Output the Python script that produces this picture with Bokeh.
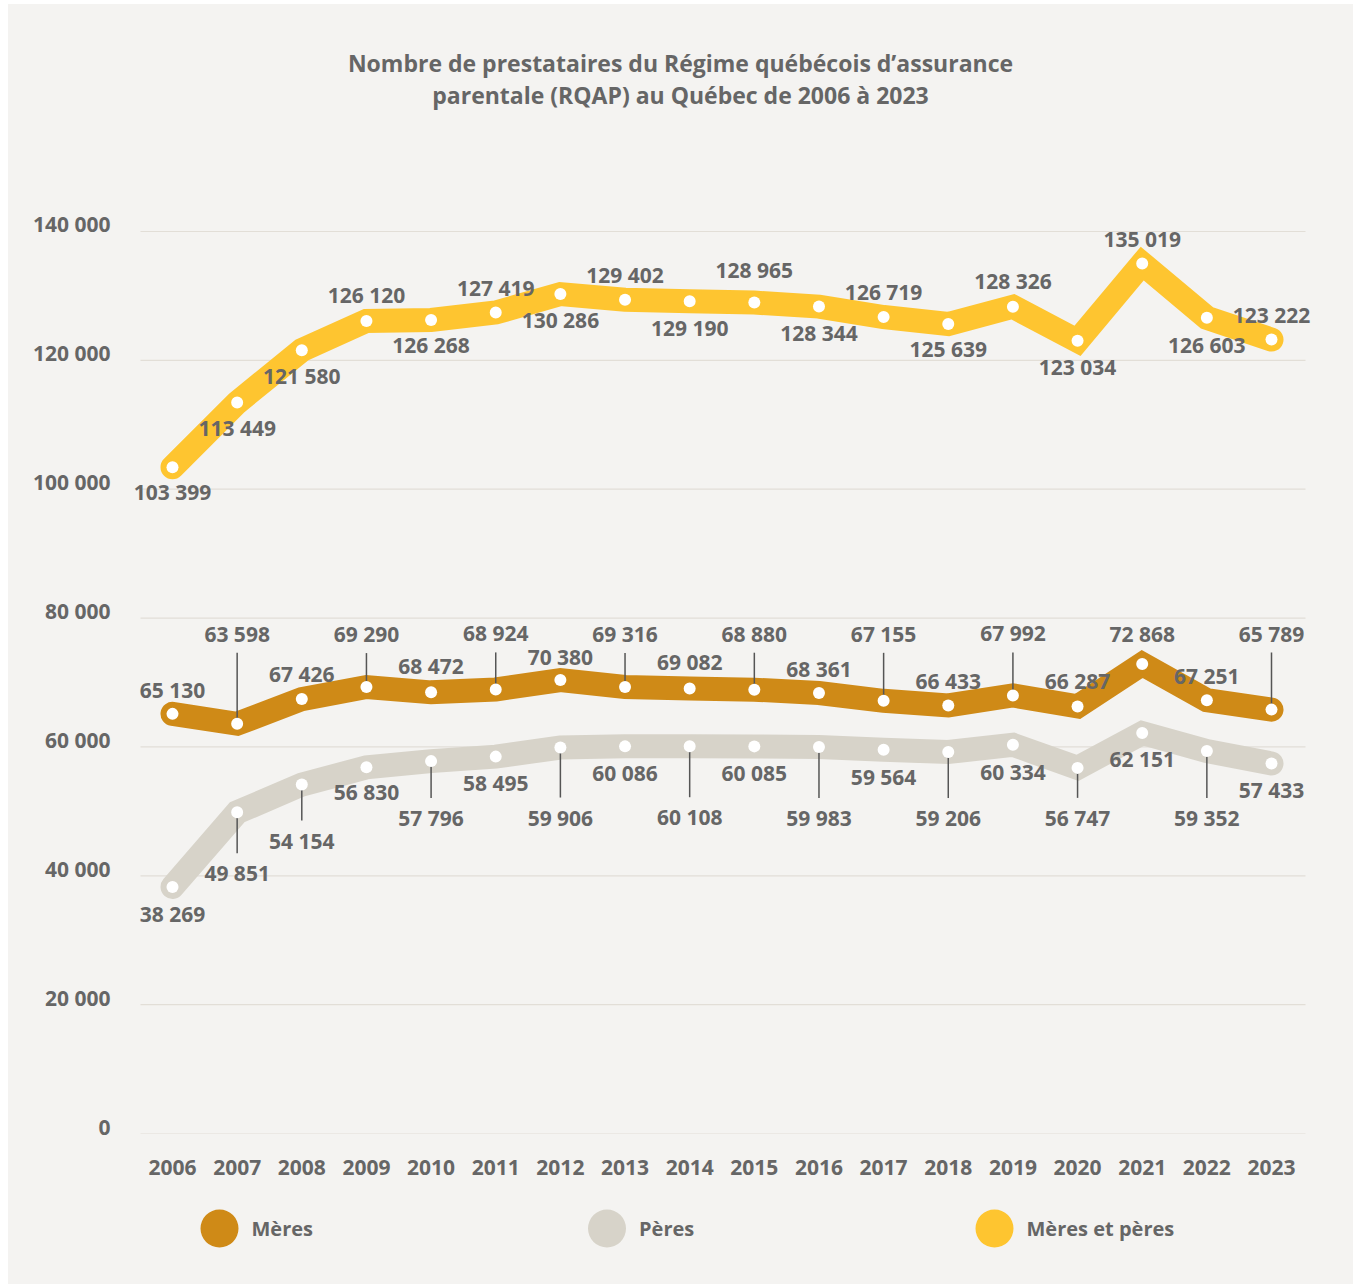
from bokeh.plotting import figure
from bokeh.models import Range1d, FixedTicker, ColumnDataSource
from bokeh.layouts import column
from bokeh.embed import file_html
from bokeh.resources import INLINE
from bokeh.core.properties import value

# ---------------- data ----------------
years = list(range(2006, 2024))
meres = [65130, 63598, 67426, 69290, 68472, 68924, 70380, 69316, 69082,
         68880, 68361, 67155, 66433, 67992, 66287, 72868, 67251, 65789]
peres = [38269, 49851, 54154, 56830, 57796, 58495, 59906, 60086, 60108,
         60085, 59983, 59564, 59206, 60334, 56747, 62151, 59352, 57433]
total = [103399, 113449, 121580, 126120, 126268, 127419, 130286, 129402, 129190,
         128965, 128344, 126719, 125639, 128326, 123034, 135019, 126603, 123222]
y_ticks = [0, 20000, 40000, 60000, 80000, 100000, 120000, 140000]
series_names = ["Mères", "Pères", "Mères et pères"]
title_lines = ["Nombre de prestataires du Régime québécois d’assurance",
               "parentale (RQAP) au Québec de 2006 à 2023"]

# ---------------- label placement (screen px, + = downward) ----------------
total_dy = [25, 25, 26, -26, 25, -25, 26, -25, 27, -33, 26, -25, 25, -26, 26, -25, 27, -25]
meres_dy = [-24, -90, -25, -53, -26, -56, -23, -53, -26, -56, -24, -67, -24, -62, -25, -30, -24, -76]
meres_leader = [0, 1, 0, 1, 0, 1, 0, 1, 0, 1, 0, 1, 0, 1, 0, 0, 0, 1]
peres_dy = [27, 61, 56, 25, 57, 26, 70, 27, 71, 27, 71, 27, 66, 27, 50, 26, 67, 27]
peres_leader = [0, 1, 1, 0, 1, 0, 1, 0, 1, 0, 1, 0, 1, 0, 1, 0, 1, 0]

# ---------------- styles / layout ----------------
BG = "#f4f3f1"
TXT = "#666666"
FONT = "Open Sans"
C_MERES = "#cf8a17"
C_PERES = "#d7d3c9"
C_TOTAL = "#fec530"
colors = [C_MERES, C_PERES, C_TOTAL]

W = 1345
LEFT, FRAME_W = 112, 1210
RIGHT = W - LEFT - FRAME_W
TITLE_H = 121
FRAME_H, BOTTOM = 1008, 55
LEG_H = 96
X_START, X_END = 2005.1956, 2023.9126      # frame extent
GRID_X0, GRID_X1 = 2005.505, 2023.526      # horizontal grid extent
Y_START, Y_END = 0, 156450
ppu = FRAME_H / (Y_END - Y_START)          # px per data unit


def fmt(v):
    return f"{v:,}".replace(",", " ")


def strip(height, x_range, y_range):
    f = figure(width=W, height=height, x_range=x_range, y_range=y_range,
               toolbar_location=None, output_backend="svg",
               x_axis_location=None, y_axis_location=None,
               min_border_left=LEFT, min_border_right=RIGHT,
               min_border_top=0, min_border_bottom=0,
               background_fill_color=None, border_fill_color=BG,
               outline_line_color=None)
    f.grid.visible = False
    return f


# ---------------- title strip ----------------
# horizontal: 1 unit = 1 px, 0 = title centre; vertical: 1 unit = one 32px line
tcx = 680 - 120
tt = strip(TITLE_H, Range1d(-tcx, FRAME_W - tcx),
           Range1d(1.8125 - TITLE_H / 32, 1.8125))
tline = list(range(len(title_lines)))
tt.text([0] * len(tline), [-i for i in tline], text=title_lines,
        text_align="center", text_baseline="middle", text_font=value(FONT),
        text_font_size="23px", text_font_style="bold", text_color=TXT)

# ---------------- main chart ----------------
p = figure(width=W, height=FRAME_H + BOTTOM,
           x_range=Range1d(X_START, X_END), y_range=Range1d(Y_START, Y_END),
           toolbar_location=None, output_backend="svg",
           min_border_left=LEFT, min_border_right=RIGHT,
           min_border_top=0, min_border_bottom=BOTTOM,
           background_fill_color=None, border_fill_color=BG,
           outline_line_color=None)
p.title.visible = False

p.grid.visible = False
p.segment([GRID_X0] * len(y_ticks), y_ticks, [GRID_X1] * len(y_ticks), y_ticks,
          line_color="#e2ded7", line_width=1.2)

p.yaxis.ticker = FixedTicker(ticks=y_ticks)
p.yaxis.major_label_overrides = {t: fmt(t) + "\n" for t in y_ticks}
p.yaxis.major_label_text_line_height = 0.5
p.xaxis.ticker = FixedTicker(ticks=years)
p.xaxis.major_label_overrides = {y: str(y) for y in years}
for ax in (p.xaxis, p.yaxis):
    ax.axis_line_color = None
    ax.major_tick_line_color = None
    ax.minor_tick_line_color = None
    ax.major_tick_out = 0
    ax.major_tick_in = 0
    ax.minor_tick_out = 0
    ax.major_label_text_font = FONT
    ax.major_label_text_font_size = "21px"
    ax.major_label_text_font_style = "bold"
    ax.major_label_text_color = TXT
p.yaxis.major_label_standoff = 10
p.xaxis.major_label_standoff = 26

# thick lines
for vals, col in [(total, C_TOTAL), (meres, C_MERES), (peres, C_PERES)]:
    p.line(years, vals, line_color=col, line_width=24,
           line_join="miter", line_cap="round")

# leader lines
lx0, ly0, lx1, ly1 = [], [], [], []
for yr, v, dy, lead in zip(years, meres, meres_dy, meres_leader):
    if lead:
        ly = v - dy / ppu
        lx0.append(yr); ly0.append(ly - 19 / ppu); lx1.append(yr); ly1.append(v)
for yr, v, dy, lead in zip(years, peres, peres_dy, peres_leader):
    if lead:
        ly = v - dy / ppu
        lx0.append(yr); ly0.append(ly + 20 / ppu); lx1.append(yr); ly1.append(v)
p.segment(lx0, ly0, lx1, ly1, line_color="#555555", line_width=1.5)

# dots and labels
for vals, dys in [(total, total_dy), (meres, meres_dy), (peres, peres_dy)]:
    p.scatter(years, vals, size=12, fill_color="white", line_color=None)
    src = ColumnDataSource(dict(x=years,
                                y=[v - d / ppu for v, d in zip(vals, dys)],
                                t=[fmt(v) for v in vals]))
    p.text("x", "y", text="t", source=src, text_align="center",
           text_baseline="middle", text_font=value(FONT),
           text_font_size="21px", text_font_style="bold", text_color=TXT)

# ---------------- legend strip ----------------
leg_start = -(219 - 120) / 387.5
leg = strip(LEG_H, Range1d(leg_start, leg_start + FRAME_W / 387.5),
            Range1d(-1.4, 1.0))
idx = list(range(len(series_names)))
leg.scatter(idx, [0] * len(idx), size=38, fill_color=colors, line_color=None)
leg.text(idx, [0] * len(idx), text=series_names, x_offset=32,
         text_baseline="middle", text_align="left", text_font=value(FONT),
         text_font_size="20px", text_font_style="bold", text_color=TXT)

layout = column(tt, p, leg, spacing=0, margin=(4, 0, 0, 8),
                styles={"background-color": BG})
open("out.html", "w").write(file_html(layout, INLINE))
